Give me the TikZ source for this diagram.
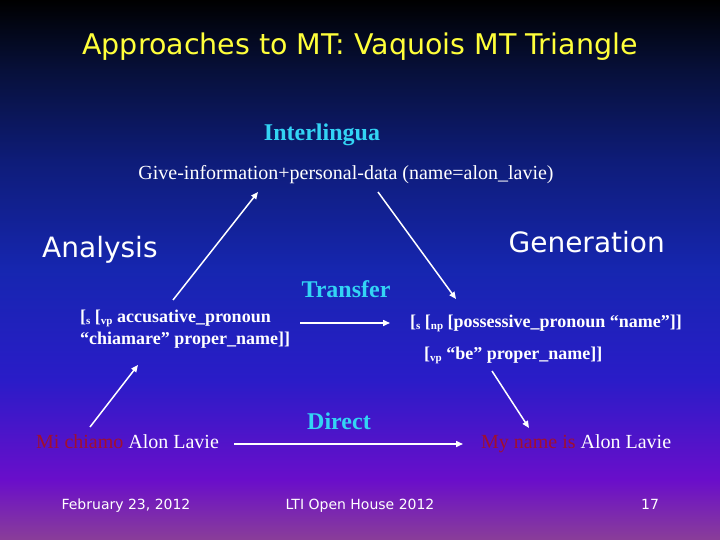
\documentclass[tikz,border=0pt]{standalone}
\usepackage{fontspec}
\setmainfont{Liberation Serif}
\newfontfamily\tah{DejaVu Sans}
\usetikzlibrary{arrows.meta}
\definecolor{ttl}{HTML}{FFFF3A}
\definecolor{cy}{HTML}{33D4F4}
\definecolor{dred}{HTML}{A0102E}
\definecolor{bg0}{HTML}{000000}
\definecolor{bg1}{HTML}{07103A}
\definecolor{bg2}{HTML}{0E1C78}
\definecolor{bg3}{HTML}{1626B0}
\definecolor{bg4}{HTML}{2A1CC8}
\definecolor{bg5}{HTML}{6A0ECA}
\definecolor{bg6}{HTML}{8A3E98}
\newcommand{\mysub}[1]{\raisebox{-0.25ex}{\fontsize{11}{11}\selectfont #1}}
\tikzset{
  txt/.style={inner sep=0pt, text=white},
  sanstxt/.style={txt, font=\tah\fontsize{28}{28}\selectfont},
  cyb/.style={inner sep=0pt, text=cy, font=\bfseries\fontsize{24}{24}\selectfont},
  brk/.style={txt, font=\bfseries\fontsize{18}{22}\selectfont, align=left},
  sent/.style={txt, font=\fontsize{20}{20}\selectfont},
  foot/.style={txt, font=\tah\fontsize{14}{14}\selectfont},
  arr/.style={draw=white, line width=1.5pt, -{Triangle[length=7pt,width=6pt]}},
}
\begin{document}
\begin{tikzpicture}[x=1pt,y=-1pt]
\useasboundingbox (0,0) rectangle (720,540);
\shade[top color=bg0, bottom color=bg1] (0,0) rectangle (720,70.5);
\shade[top color=bg1, bottom color=bg2] (0,70) rectangle (720,160.5);
\shade[top color=bg2, bottom color=bg3] (0,160) rectangle (720,270.5);
\shade[top color=bg3, bottom color=bg4] (0,270) rectangle (720,380.5);
\shade[top color=bg4, bottom color=bg5] (0,380) rectangle (720,480.5);
\shade[top color=bg5, bottom color=bg6] (0,480) rectangle (720,540);

\node[inner sep=0pt, text=ttl, font=\tah\fontsize{28.5}{28.5}\selectfont, anchor=base] (title) at (360,55) {Approaches to MT: Vaquois MT Triangle};

\node[cyb, anchor=base] (il) at (322,141) {Interlingua};
\node[txt, font=\fontsize{20}{20}\selectfont, anchor=base] (gi) at (346,180) {Give-information+personal-data (name=alon\_lavie)};

\node[sanstxt, anchor=base west] (an) at (42,258) {Analysis};
\node[sanstxt, anchor=base east] (gen) at (665,252) {Generation};
\node[cyb, anchor=base] (tr) at (346,297) {Transfer};

\node[brk, anchor=north west] (src) at (80,310) {[\mysub{s} [\mysub{vp} accusative\_pronoun\\``chiamare'' proper\_name]]};
\node[brk, anchor=base west] (tg1) at (410,327) {[\mysub{s} [\mysub{np} [possessive\_pronoun ``name'']]};
\node[brk, anchor=base west] (tg2) at (424,359) {[\mysub{vp} ``be'' proper\_name]]};

\node[cyb, anchor=base] (di) at (339,429) {Direct};
\node[sent, anchor=base west] (mi) at (36,448) {\textcolor{dred}{Mi chiamo} Alon Lavie};
\node[sent, anchor=base west] (my) at (481,448) {\textcolor{dred}{My name is} Alon Lavie};

\node[foot, anchor=base] (f1) at (126,509) {February 23, 2012};
\node[foot, anchor=base] (f2) at (360,509) {LTI Open House 2012};
\node[foot, anchor=base] (f3) at (650,509) {17};

\coordinate (a1s) at (173,300); \coordinate (a1e) at (258,192);
\coordinate (a2s) at (378,192); \coordinate (a2e) at (456,299);
\coordinate (a3s) at (300,323); \coordinate (a3e) at (390,323);
\coordinate (a4s) at (90,427);  \coordinate (a4e) at (138,365);
\coordinate (a5s) at (492,371); \coordinate (a5e) at (529,428);
\coordinate (a6s) at (234,444); \coordinate (a6e) at (463,444);
\draw[arr] (a1s) -- (a1e);
\draw[arr] (a2s) -- (a2e);
\draw[arr] (a3s) -- (a3e);
\draw[arr] (a4s) -- (a4e);
\draw[arr] (a5s) -- (a5e);
\draw[arr] (a6s) -- (a6e);
\end{tikzpicture}
\end{document}
